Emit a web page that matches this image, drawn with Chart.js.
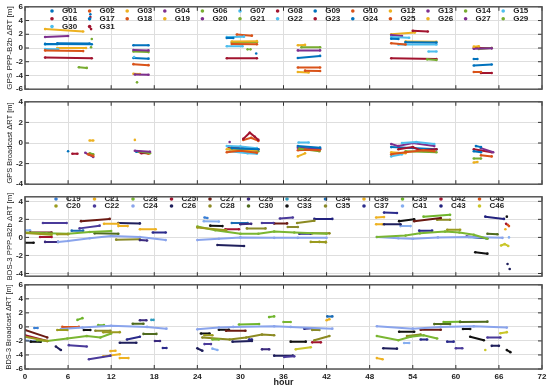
<!DOCTYPE html>
<html>
<head>
<meta charset="utf-8">
<script src="https://cdn.jsdelivr.net/npm/chart.js@4.4.1/dist/chart.umd.min.js"></script>
<style>
  body { margin: 0; background: #fff; }
  #wrap { position: relative; width: 550px; height: 390px; overflow: hidden; }
  canvas { position: absolute; left: 0; }
</style>
</head>
<body>
<div id="wrap">
  <canvas id="p1" width="550" height="96" style="top:0px"></canvas>
  <canvas id="p2" width="550" height="96" style="top:95px"></canvas>
  <canvas id="p3" width="550" height="93" style="top:190px"></canvas>
  <canvas id="p4" width="550" height="112" style="top:278px"></canvas>
</div>
<script>
// x axis ticks (hours)
var hourTicks = [0, 6, 12, 18, 24, 30, 36, 42, 48, 54, 60, 66, 72];

var gpsSats = ['G01','G02','G03','G04','G06','G07','G08','G09','G10','G12','G13','G14','G15',
               'G16','G17','G18','G19','G20','G21','G22','G23','G24','G25','G26','G27','G29',
               'G30','G31'];
// matlab default colour order, repeated
var gpsPalette = ['#0072BD','#D95319','#EDB120','#7E2F8E','#77AC30','#4DBEEE','#A2142F'];

var bdsSats = ['C19','C20','C21','C22','C23','C24','C25','C26','C27','C28','C29','C30',
               'C32','C33','C34','C35','C36','C37','C39','C41','C42','C43','C45','C46'];
var bdsColors = ['#3a7fd5','#9b9b1e','#edb120','#4a3a9a','#7ab632','#8aa4ec','#a2142f','#1f1f5c',
                 '#6b1a12','#8c8a22','#3b2a7e','#4f6b1f','#2e9cc0','#111111','#1c6cb4','#8a8a2a',
                 '#eeb222','#2b2b8c','#6fb52c','#86aef0','#a2142f','#22227e','#d95319','#c9c62a'];

// segments: [sat, hour, value, hour, value, ...]
var gpsPppSegs = [
  ['G03', 2.8,2.75, 8.1,2.4],
  ['G04', 2.8,1.6, 6.0,1.75],
  ['G01', 2.8,0.6, 9.3,0.55],
  ['G17', 4.5,0.7, 9.0,0.65],
  ['G30', 2.8,0.5, 4.5,0.55],
  ['G19', 4.5,0.0, 8.5,0.0],
  ['G07', 2.8,-0.15, 4.6,-0.2],
  ['G02', 2.8,-0.35, 8.1,-0.45],
  ['G16', 2.8,-1.4, 9.3,-1.5],
  ['G06', 7.5,-2.8, 8.6,-2.9],
  ['G09', 9.1,4.9], ['G31', 9.1,4.5], ['G31', 9.2,2.75], ['G22', 9.0,4.2],
  ['G21', 9.3,1.3], ['G29', 9.2,0.1],
  ['G24', 15.1,0.4, 17.2,0.4],
  ['G13', 15.1,-0.3, 17.2,-0.35],
  ['G14', 15.1,-0.5, 17.2,-0.6],
  ['G17', 15.1,-1.45, 17.2,-1.55],
  ['G15', 15.2,-1.3],
  ['G18', 15.1,-2.35, 17.2,-2.5],
  ['G20', 15.3,-3.85, 17.2,-3.9],
  ['G26', 15.1,-3.75, 16.0,-3.8],
  ['G06', 15.6,-5.0],
  ['G25', 29.5,1.95, 31.6,1.8],
  ['G15', 28.1,1.6, 30.5,1.65],
  ['G01', 28.1,1.45, 29.0,1.45],
  ['G12', 28.8,0.95, 32.3,1.0],
  ['G29', 28.8,0.8, 32.3,0.85],
  ['G10', 28.8,0.6, 32.3,0.55],
  ['G22', 28.1,0.25, 30.3,0.25],
  ['G23', 28.1,-1.5, 32.3,-1.5],
  ['G21', 31.0,-0.2], ['G21', 31.4,-0.2], ['G24', 32.2,-0.8],
  ['G26', 38.0,0.4, 39.0,0.45],
  ['G14', 38.5,0.1, 41.1,0.1],
  ['G20', 38.0,-0.35, 41.1,-0.35],
  ['G09', 38.0,-1.45, 41.1,-1.15],
  ['G25', 38.0,-2.85, 41.1,-2.85],
  ['G10', 39.0,-3.3, 41.1,-3.35],
  ['G12', 38.0,-3.5, 39.5,-3.55],
  ['G08', 54.0,2.5, 56.1,2.4],
  ['G19', 51.0,2.0, 54.3,2.25],
  ['G13', 51.0,1.9, 52.5,1.75],
  ['G07', 51.0,1.6, 53.5,1.5],
  ['G01', 51.0,1.35, 52.0,1.3],
  ['G26', 53.0,0.95, 57.3,0.9],
  ['G24', 53.0,0.85, 57.3,0.8],
  ['G02', 51.0,0.7, 53.0,0.5],
  ['G30', 52.0,0.5, 57.3,0.5],
  ['G22', 56.2,-0.5, 57.3,-0.5],
  ['G16', 51.0,-1.5, 57.3,-1.6],
  ['G06', 56.0,-1.65, 57.3,-1.75],
  ['G03', 62.5,0.2, 63.2,0.25],
  ['G31', 62.5,0.0, 65.0,0.0],
  ['G27', 62.5,-0.1, 65.0,-0.05],
  ['G29', 63.2,-0.15, 65.0,0.0],
  ['G17', 62.5,-1.6, 63.0,-1.6],
  ['G09', 62.5,-2.55, 65.0,-2.4],
  ['G18', 62.5,-3.5, 63.5,-3.5],
  ['G23', 63.5,-3.65, 65.0,-3.65]
];

var gpsBrdcSegs = [
  ['G01', 6.0,-0.8],
  ['G16', 6.6,-1.05, 7.3,-1.05],
  ['G04', 8.4,-0.95, 9.5,-1.35],
  ['G02', 8.8,-1.1, 9.5,-1.25],
  ['G03', 9.0,0.25, 9.5,0.25],
  ['G06', 9.0,-1.0, 9.5,-1.1],
  ['G26', 15.3,0.3],
  ['G13', 15.3,-0.75, 17.4,-0.85],
  ['G14', 15.8,-0.8, 17.4,-1.0],
  ['G18', 16.0,-0.9, 17.2,-1.05],
  ['G16', 16.2,-1.0, 17.4,-0.95],
  ['G24', 15.5,-0.85, 17.2,-0.9],
  ['G27', 28.5,0.1],
  ['G15', 28.1,-0.3, 30.0,-0.35, 32.3,-0.5],
  ['G23', 28.3,-0.35, 32.5,-0.6],
  ['G12', 28.1,-0.6, 30.0,-0.75, 32.3,-0.7],
  ['G22', 28.5,-0.8, 31.0,-1.0, 32.3,-1.05],
  ['G29', 28.5,-0.5, 32.5,-0.8],
  ['G10', 28.1,-0.9, 30.0,-0.75, 32.3,-0.95],
  ['G08', 30.4,0.4, 31.3,1.0, 32.0,0.6, 32.5,0.3],
  ['G25', 30.4,0.3, 31.5,0.5, 32.5,0.2],
  ['G01', 28.8,-0.5, 32.5,-0.6],
  ['G07', 38.1,0.05, 39.5,0.05],
  ['G09', 38.0,-0.3, 41.1,-0.45],
  ['G20', 38.0,-0.45, 41.1,-0.55],
  ['G25', 38.0,-0.7, 41.1,-0.6],
  ['G14', 38.2,-0.55, 41.0,-0.8],
  ['G26', 38.0,-1.3, 39.0,-1.0],
  ['G10', 39.0,-0.65, 41.0,-0.7],
  ['G07', 52.5,0.0, 54.5,0.1, 57.0,-0.1],
  ['G13', 51.0,-0.1, 52.0,-0.3, 54.0,0.0, 57.0,-0.3],
  ['G24', 51.0,-0.4, 57.3,-0.6],
  ['G16', 52.0,-0.6, 54.0,-0.4, 55.0,-0.7, 57.3,-0.6],
  ['G02', 51.0,-1.1, 53.0,-0.9, 55.5,-0.7, 57.0,-0.8],
  ['G06', 53.0,-0.8, 57.3,-0.9],
  ['G19', 51.0,-0.9, 53.0,-1.0],
  ['G30', 51.0,-1.3, 52.5,-1.1],
  ['G17', 62.8,-0.3, 63.5,-0.4],
  ['G27', 63.5,-0.5, 65.2,-0.9],
  ['G31', 62.5,-0.6, 65.0,-0.9],
  ['G09', 62.5,-0.8, 63.5,-0.9],
  ['G29', 62.5,-1.5, 63.5,-1.5],
  ['G03', 62.5,-1.9, 63.0,-1.85],
  ['G18', 63.5,-1.2, 65.0,-1.3]
];

var bdsPppSegs = [
  ['C24', 4.6,-0.5, 6,-0.4, 9,-0.1, 12,0.15, 16,0.05, 19.6,-0.3],
  ['C24', 24,-0.3, 27,-0.15, 30,0, 34.7,-0.05, 38,-0.05, 42,-0.05],
  ['C24', 49,0.05, 52,-0.1, 54,-0.15, 57.5,0, 62,0.05, 66.5,-0.05],
  ['C23', 0,0.55, 3,0.45, 6,0.4, 9,0.6, 12,0.7],
  ['C23', 24,1.2, 26.5,0.8, 30,0.4, 32.5,0.4, 34.7,0.65, 37.5,0.55, 42,0.4],
  ['C23', 49,0.05, 53,0.2, 55,0.45, 58.5,0.65, 60.5,0.55, 62.5,0.3, 64.4,-0.15],
  ['C20', 0,0.5, 3.7,0.3], ['C20', 4.5,0.35, 6,0.35], ['C20', 24,1.1, 28,0.8],
  ['C20', 39.8,-0.5, 41.9,-0.5], ['C20', 58.8,0.85, 60.6,0.85],
  ['C22', 2.5,1.6, 5.8,1.6], ['C22', 7.6,1.0, 10.4,1.3], ['C22', 33,1.6, 34.6,1.6], ['C22', 35.5,2.1, 37.3,2.2],
  ['C27', 0.7,0.55, 3.7,0.55], ['C27', 7.8,1.8, 11.8,2.05], ['C27', 34.7,1.55, 36.5,1.55], ['C27', 54.2,1.8, 57.9,2.15],
  ['C25', 2.1,0.05, 3.7,0.05], ['C25', 27.9,0.9, 29.8,0.9],
  ['C33', 0,-0.6, 1.2,-0.6], ['C33', 25.8,1.3, 27.5,1.25], ['C33', 52.1,1.8, 54.2,2.0],
  ['C33', 62.7,-1.65, 64.4,-1.8], ['C33', 67.1,2.3],
  ['C26', 13,1.6, 16,1.55], ['C26', 26.8,-0.85, 30.5,-0.95], ['C26', 50,1.45, 52.3,1.45],
  ['C26', 67.2,-2.95], ['C26', 67.5,-3.5],
  ['C29', 2.8,-0.5, 4.6,-0.5], ['C29', 16,-0.3, 17,-0.35], ['C29', 30,1.45, 31.5,1.5], ['C29', 61.5,0.1, 64.4,-0.1],
  ['C21', 11,1.5, 13,1.5], ['C21', 16,0.9, 18.2,0.9], ['C21', 66.9,0.9],
  ['C36', 13,1.25, 14.3,1.25], ['C36', 48.9,2.2, 50,2.25], ['C36', 48.9,1.45, 49.8,1.45],
  ['C30', 9.7,0.45, 13,0.4], ['C30', 64.4,0.4, 65.8,0.35],
  ['C35', 12.7,-0.25, 16,-0.2], ['C35', 30.9,1.0, 33.5,1.0], ['C35', 36.6,1.15, 38,1.15], ['C35', 41,-0.5, 41.9,-0.55],
  ['C46', 66.3,-0.9, 66.8,-0.75, 67.3,-0.95],
  ['C37', 17.8,0.55, 19.6,0.55], ['C37', 38.2,0.4, 39.8,0.4], ['C37', 50,2.75, 51.8,2.7], ['C37', 54.9,0.75, 56.7,0.75],
  ['C41', 0,0.8, 0.7,0.8], ['C41', 24.9,1.8, 27,1.75], ['C41', 52.3,1.25, 53.7,1.25], ['C41', 67.4,0],
  ['C28', 37.9,1.6, 40.3,1.85], ['C28', 40,0.45, 42.4,0.45], ['C28', 57.4,1.95, 59.2,1.95],
  ['C43', 40.3,2.05, 42.8,2.05], ['C43', 64.1,2.3, 66.7,2.05],
  ['C39', 55.5,2.3, 59.2,2.5],
  ['C34', 6.5,0.75, 8.1,0.75], ['C34', 28.8,1.6, 31,1.6],
  ['C19', 25,2.2, 25.4,2.15],
  ['C32', 61.8,0.05, 64.2,-0.1],
  ['C42', 67.0,1.5],
  ['C45', 67.2,1.4, 67.4,1.25]
];

var bdsBrdcSegs = [
  ['C24', 5,-0.3, 8,-0.1, 12,0.15, 17,0, 19.7,-0.25],
  ['C24', 24,-0.35, 27,-0.1, 29,0, 34.7,0.1, 37,0, 42.8,-0.25],
  ['C24', 49,0.1, 54,-0.25, 57.9,0, 62.5,0.1, 67.1,-0.1],
  ['C27', 0,-0.45, 3.1,-1.5], ['C27', 28,-0.55, 30.7,-0.55], ['C27', 55.1,-0.4, 57.9,-0.4],
  ['C25', 0,-1.2, 3.1,-2.0],
  ['C41', 0,-1.9, 2,-2.1], ['C41', 26.1,-3.1, 26.8,-3.3], ['C41', 52.8,-2.3, 53.5,-2.3],
  ['C20', 0,-1.4, 3.1,-2.0], ['C20', 4.5,-0.45, 5.9,-0.45], ['C20', 10.9,-0.75, 13.2,-0.75], ['C20', 25,-1.2, 26.1,-1.2],
  ['C23', 1.7,-1.9, 3.1,-2.0, 5.9,-1.65, 8.6,-1.3, 10.5,-1.5, 12,-0.95], ['C23', 26.1,-1.8, 27,-1.8],
  ['C23', 36,0.7, 37,0.7], ['C23', 49,-1.3, 52,-1.9, 53.7,-1.4, 55.5,-1.2, 57.4,-1.65],
  ['C28', 24.7,-1.5, 28.5,-1.8, 30.8,-1.5, 33,-1.1, 34.7,-1.2], ['C28', 40.3,-1.9, 42.4,-1.3], ['C28', 53.2,-1.3, 55.1,-1.1],
  ['C33', 0.8,-2.1, 2.2,-2.1], ['C33', 8.2,-0.45, 9.1,-0.45], ['C33', 24.5,-0.95, 25.7,-0.95], ['C33', 27,-0.4, 28.4,-0.4],
  ['C33', 37,-2.1, 39.1,-2.1], ['C33', 52.1,-0.7, 54.2,-0.7], ['C33', 61,-0.3, 62,-0.3], ['C33', 62,-1.4, 63.9,-1.9],
  ['C33', 67.1,-3.3, 67.6,-3.6],
  ['C26', 4.3,-2.8, 5,-3.3], ['C26', 13.2,-2.25, 15.5,-2.25], ['C26', 24,-3.05, 24.7,-3.4], ['C26', 28.9,-2.1, 31.6,-2.0],
  ['C26', 34.7,-4.1, 37.3,-4.1], ['C26', 49.9,-3.05, 51.8,-3.1], ['C26', 65,-2.7, 66,-2.7],
  ['C22', 6.1,-2.6, 8.6,-2.8], ['C22', 8.9,-4.6, 11.9,-4.1], ['C22', 25,-2.45, 25.9,-2.45], ['C22', 36.1,-4.3, 37.5,-4.2],
  ['C22', 60,-3.05, 60.9,-3.05], ['C22', 64.4,-1.5, 66.2,-1.5],
  ['C36', 10.9,-4.2, 13.2,-3.9], ['C36', 13.2,-4.45, 14.4,-4.45], ['C36', 49,-4.45, 49.8,-4.6],
  ['C21', 11.9,-3.45, 12.6,-3.4], ['C21', 42,0.95, 42.4,1.1],
  ['C35', 9.8,-0.55, 11.9,-0.55], ['C35', 40,-0.45, 41,-0.45],
  ['C39', 7.3,1.0, 8,1.25], ['C39', 10.2,0.25, 11,0.25], ['C39', 29.8,0.35, 32.6,0.4], ['C39', 34,1.4, 34.7,1.5],
  ['C39', 58.3,0.7, 60.6,0.75],
  ['C30', 15,0.45, 16.5,0.45], ['C30', 16.5,-1.0, 18.3,-1.0], ['C30', 57,0.4, 59.2,0.4], ['C30', 60.6,0.7, 64.4,0.75],
  ['C29', 16,0.95, 16.9,0.95], ['C29', 18.1,-2.0, 18.8,-2.0], ['C29', 33,-3.2, 34,-3.2],
  ['C37', 14.2,-1.8, 16,-1.4], ['C37', 19.2,-3.0, 19.7,-3.0], ['C37', 31.2,-1.8, 31.6,-1.8], ['C37', 55.1,-1.8, 56,-1.8],
  ['C37', 58.8,-2.1, 59.7,-2.1],
  ['C45', 5.2,0.0, 7.5,0.0],
  ['C46', 37.7,-3.2, 39.8,-2.9], ['C46', 64.1,-3.3], ['C46', 66.2,-0.9, 67.1,-0.75],
  ['C43', 38.9,-0.25, 40,-0.2],
  ['C34', 42.1,1.5, 42.8,1.5],
  ['C32', 17.6,1.0, 17.9,1.0],
  ['C42', 40,-2.2, 41.2,-2.2],
  ['C19', 1.3,-0.15, 1.75,-0.15]
];

var gpsColors = gpsSats.map(function (s, i) { return gpsPalette[i % gpsPalette.length]; });
var FONT = '"Liberation Sans", Arial, sans-serif';

function buildSets(sats, colors, segs, lw) {
  return sats.map(function (s, i) {
    var pts = [];
    segs.forEach(function (g) {
      if (g[0] !== s) return;
      for (var k = 1; k < g.length; k += 2) pts.push({ x: g[k], y: g[k + 1] });
      pts.push({ x: g[g.length - 2], y: null });
    });
    return {
      label: s, data: pts, showLine: true, spanGaps: false,
      borderColor: colors[i], backgroundColor: colors[i],
      borderWidth: lw, pointRadius: 1.3, pointBorderWidth: 0
    };
  });
}

// legend drawn inside the plot area, like the original
var insideLegend = {
  id: 'insideLegend',
  afterDatasetsDraw: function (chart, args, o) {
    if (!o.labels) return;
    var ctx = chart.ctx;
    ctx.save();
    ctx.font = 'bold 8px ' + FONT;
    ctx.textBaseline = 'middle';
    o.labels.forEach(function (lab, i) {
      var col = o.byColumn ? Math.floor(i / o.rows) : i % o.cols;
      var row = o.byColumn ? i % o.rows : Math.floor(i / o.cols);
      var x = o.x0 + col * o.dx, y = o.y0 + row * o.dy;
      ctx.fillStyle = o.colors[i];
      ctx.beginPath(); ctx.arc(x, y, 1.8, 0, 2 * Math.PI); ctx.fill();
      ctx.fillStyle = '#222';
      ctx.fillText(lab, x + 10, y);
    });
    ctx.restore();
  }
};

// box around the axes with inward tick marks
var frame = {
  id: 'frame',
  afterDraw: function (chart) {
    var ctx = chart.ctx, a = chart.chartArea, sx = chart.scales.x, sy = chart.scales.y;
    ctx.save();
    ctx.strokeStyle = '#333';
    ctx.lineWidth = 1;
    ctx.beginPath();
    sx.ticks.forEach(function (t) {
      var px = sx.getPixelForValue(t.value);
      ctx.moveTo(px, a.top); ctx.lineTo(px, a.top + 4);
      ctx.moveTo(px, a.bottom); ctx.lineTo(px, a.bottom - 4);
    });
    sy.ticks.forEach(function (t) {
      var py = sy.getPixelForValue(t.value);
      ctx.moveTo(a.left, py); ctx.lineTo(a.left + 4, py);
      ctx.moveTo(a.right, py); ctx.lineTo(a.right - 4, py);
    });
    ctx.stroke();
    ctx.strokeStyle = '#555';
    ctx.lineWidth = 1.5;
    ctx.strokeRect(a.left, a.top, a.right - a.left, a.bottom - a.top);
    ctx.restore();
  }
};

function makePanel(id, c) {
  new Chart(document.getElementById(id), {
    type: 'scatter',
    data: { datasets: buildSets(c.sats, c.colors, c.segs, c.lw) },
    options: {
      responsive: false,
      animation: false,
      layout: { padding: { top: c.padTop, bottom: c.padBottom, left: 0, right: 8 } },
      plugins: {
        legend: { display: false },
        tooltip: { enabled: false },
        insideLegend: c.legend || {}
      },
      scales: {
        x: {
          type: 'linear', min: 0, max: 72,
          afterBuildTicks: function (s) { s.ticks = hourTicks.map(function (v) { return { value: v }; }); },
          afterFit: function (s) { s.height = c.showX ? 21 : 0; },
          grid: { color: '#dedede', drawTicks: false },
          border: { display: false },
          ticks: { display: c.showX, padding: 3, color: '#222', font: { family: FONT, size: 8, weight: 'bold' } },
          title: { display: c.showX, text: 'hour', color: '#222', padding: { top: 0, bottom: 2 },
                   font: { family: FONT, size: 9, weight: 'bold' } }
        },
        y: {
          min: c.yMin, max: c.yMax,
          afterBuildTicks: function (s) { s.ticks = c.yTicks.map(function (v) { return { value: v }; }); },
          afterFit: function (s) { s.width = 25; },
          grid: { color: '#dedede', drawTicks: false },
          border: { display: false },
          ticks: { padding: 2, color: '#222', font: { family: FONT, size: 8, weight: 'bold' } },
          title: { display: true, text: c.title, color: '#222', padding: { top: 5, bottom: 0 },
                   font: { family: FONT, size: c.titleSize } }
        }
      }
    },
    plugins: [insideLegend, frame]
  });
}

makePanel('p1', {
  sats: gpsSats, colors: gpsColors, segs: gpsPppSegs, lw: 2,
  padTop: 5, padBottom: 5, showX: false,
  yMin: -6, yMax: 6, yTicks: [-6, -4, -2, 0, 2, 4, 6],
  title: 'GPS PPP-B2b ΔRT [m]', titleSize: 8,
  legend: { labels: gpsSats, colors: gpsColors, cols: 13, x0: 52, y0: 11, dx: 37.6, dy: 7.8 }
});
makePanel('p2', {
  sats: gpsSats, colors: gpsColors, segs: gpsBrdcSegs, lw: 2,
  padTop: 5, padBottom: 5, showX: false,
  yMin: -4, yMax: 4, yTicks: [-4, -2, 0, 2, 4],
  title: 'GPS Broadcast ΔRT [m]', titleSize: 7.5
});
makePanel('p3', {
  sats: bdsSats, colors: bdsColors, segs: bdsPppSegs, lw: 2,
  padTop: 5, padBottom: 5, showX: false,
  yMin: -4.3, yMax: 4.5, yTicks: [-4, -2, 0, 2, 4],
  title: 'BDS-3 PPP-B2b ΔRT [m]', titleSize: 7.8,
  legend: { labels: bdsSats, colors: bdsColors, byColumn: true, rows: 2, x0: 56, y0: 9, dx: 38.5, dy: 7 }
});
makePanel('p4', {
  sats: bdsSats, colors: bdsColors, segs: bdsBrdcSegs, lw: 2,
  padTop: 5, padBottom: 0, showX: true,
  yMin: -6, yMax: 6, yTicks: [-6, -4, -2, 0, 2, 4, 6],
  title: 'BDS-3 Broadcast ΔRT [m]', titleSize: 7.3
});
</script>
</body>
</html>
